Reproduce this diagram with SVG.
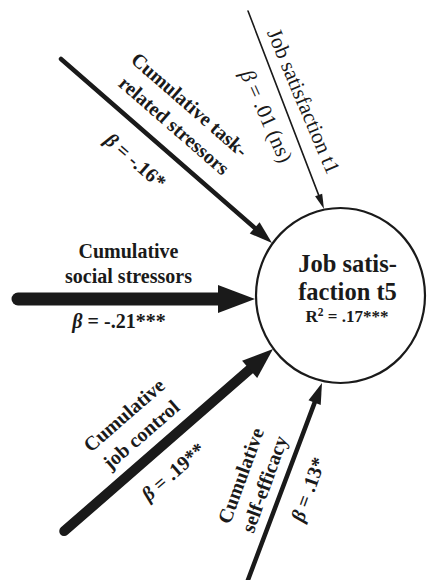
<svg xmlns="http://www.w3.org/2000/svg" width="427" height="580" viewBox="0 0 427 580">
  <style>
    .lbl { font-family: "Liberation Serif", "Times New Roman", serif; font-size: 20px; fill: #1a1a1a; text-anchor: middle; }
    .reg { font-size: 21.5px; }
    .b { font-weight: bold; }
    .beta { font-style: italic; }
    .shaft { stroke: #1a1a1a; fill: none; stroke-linecap: round; }
    .head { fill: #1a1a1a; stroke: none; }
    .node { fill: #fff; stroke: #1a1a1a; stroke-width: 2.2; }
    .nodeTxt { font-family: "Liberation Serif", "Times New Roman", serif; font-weight: bold; fill: #1a1a1a; text-anchor: middle; }
  </style>

  <!-- connectors: each group is placed at the arrow tip and rotated along the shaft -->
  <g id="connectors">
    <g id="c-t1" transform="translate(324,209) rotate(69)">
      <line class="shaft" x1="-212" y1="0" x2="-13" y2="0" stroke-width="1.6" stroke-linecap="butt"/>
      <polygon class="head" points="0,0 -15,-3.8 -15,3.8"/>
    </g>
    <g id="c-task" transform="translate(272,243) rotate(41.1)">
      <line class="shaft" x1="-280" y1="0" x2="-20" y2="0" stroke-width="4.5"/>
      <polygon class="head" points="0,0 -23,-7.5 -23,7.5"/>
    </g>
    <g id="c-social" transform="translate(255,299)">
      <line class="shaft" x1="-237" y1="0" x2="-34" y2="0" stroke-width="13"/>
      <polygon class="head" points="0,0 -37,-14 -37,14"/>
    </g>
    <g id="c-control" transform="translate(273,349) rotate(-41.1)">
      <line class="shaft" x1="-277" y1="0" x2="-28" y2="0" stroke-width="10"/>
      <polygon class="head" points="0,0 -31,-11.5 -31,11.5"/>
    </g>
    <g id="c-self" transform="translate(322,383) rotate(-69.4)">
      <line class="shaft" x1="-215" y1="0" x2="-18" y2="0" stroke-width="4.5" stroke-linecap="butt"/>
      <polygon class="head" points="0,0 -21,-6.5 -21,6.5"/>
    </g>
  </g>

  <!-- outcome node -->
  <g id="n-outcome">
    <ellipse class="node" cx="340.5" cy="295.5" rx="84.5" ry="87.5"/>
    <text class="nodeTxt" x="347.5" y="272" font-size="24.5">Job satis-</text>
    <text class="nodeTxt" x="347.5" y="300" font-size="24.5">faction t5</text>
    <text class="nodeTxt" x="347" y="322" font-size="17">R<tspan font-size="11.5" dy="-6.5">2</tspan><tspan dy="6.5"> = .17***</tspan></text>
  </g>

  <!-- predictor labels -->
  <g id="n-t1">
    <text class="lbl reg" transform="translate(297,104) rotate(67)">Job satisfaction t1</text>
    <text class="lbl reg" transform="translate(260,119) rotate(66)"><tspan class="beta">β</tspan> = .01 (ns)</text>
  </g>

  <g id="n-task">
    <g transform="translate(178,118) rotate(41)">
      <text class="lbl b" x="0" y="-11">Cumulative task-</text>
      <text class="lbl b" x="2" y="15">related stressors</text>
      <text class="lbl b" x="-4" y="67"><tspan class="beta">β</tspan> = -.16*</text>
    </g>
  </g>

  <g id="n-social">
    <text class="lbl b" x="128.5" y="258">Cumulative</text>
    <text class="lbl b" x="128.5" y="283">social stressors</text>
    <text class="lbl b" x="119" y="328"><tspan class="beta">β</tspan> = -.21***</text>
  </g>

  <g id="n-control">
    <g transform="translate(137,430) rotate(-41)">
      <text class="lbl b" x="0" y="-13">Cumulative</text>
      <text class="lbl b" x="0" y="13">job control</text>
      <text class="lbl b" x="0" y="62"><tspan class="beta">β</tspan> = .19**</text>
    </g>
  </g>

  <g id="n-self">
    <g transform="translate(258.5,482) rotate(-70)">
      <text class="lbl b" x="0" y="-12">Cumulative</text>
      <text class="lbl b" x="0" y="13">self-efficacy</text>
      <text class="lbl b" x="10" y="56"><tspan class="beta">β</tspan> = .13*</text>
    </g>
  </g>
</svg>
